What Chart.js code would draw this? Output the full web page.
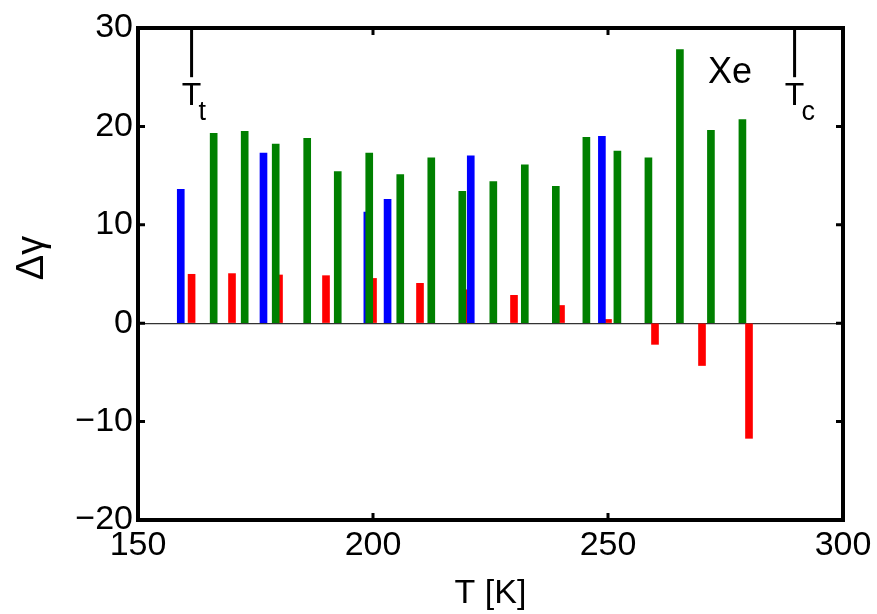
<!DOCTYPE html>
<html>
<head>
<meta charset="utf-8">
<script src="https://cdn.jsdelivr.net/npm/chart.js@4.4.1/dist/chart.umd.min.js"></script>
<style>
  html, body { margin: 0; padding: 0; background: #fff; }
</style>
</head>
<body>
<canvas id="myChart" width="877" height="614"></canvas>
<script>
// values: temperature T [K] and delta gamma
const greenT   = [166.1, 172.7, 179.3, 186.0, 192.5, 199.2, 205.8, 212.4, 219.0, 225.6, 232.3, 238.9, 245.4, 252.0, 258.6, 265.3, 271.9, 278.6];
const greenVal = [19.3, 19.5, 18.2, 18.8, 15.4, 17.3, 15.1, 16.8, 13.4, 14.4, 16.1, 13.9, 18.9, 17.5, 16.8, 27.8, 19.6, 20.7];

const blueT   = [159.1, 176.7, 198.8, 203.1, 220.8, 248.7];
const blueVal = [13.6, 17.3, 11.3, 12.6, 17.0, 19.0];

const redT   = [161.4, 170, 180, 190, 200, 210, 220, 230, 240, 250, 260, 270, 280];
const redVal = [4.97, 5.04, 4.9, 4.83, 4.55, 4.05, 3.4, 2.83, 1.8, 0.38, -2.15, -4.3, -11.7];

const xTicks = [150, 200, 250, 300];
const yTicks = [-20, -10, 0, 10, 20, 30];

// marker lines: triple point and critical point of Xe
const markT   = [161.4, 289.7];
const markSub = ['t', 'c'];

const FONT = "'Liberation Sans', Arial, Helvetica, sans-serif";

function pts(xs, ys) {
  return xs.map((v, i) => ({ x: v, y: ys[i] }));
}

const data = {
  datasets: [
    { label: 'green', data: pts(greenT, greenVal), backgroundColor: 'rgb(0, 128, 0)' },
    { label: 'blue',  data: pts(blueT, blueVal),   backgroundColor: 'rgb(0, 0, 255)' },
    { label: 'red',   data: pts(redT, redVal),     backgroundColor: 'rgb(255, 0, 0)' }
  ]
};

// box, inward ticks and the text marks
const frame = {
  id: 'frame',
  afterDatasetsDraw(chart) {
    const { ctx, chartArea: a, scales: { x, y } } = chart;
    ctx.save();
    ctx.strokeStyle = '#000';
    ctx.lineWidth = 4;
    ctx.strokeRect(a.left, a.top, a.right - a.left, a.bottom - a.top);

    ctx.lineWidth = 3;
    ctx.beginPath();
    xTicks.slice(1, -1).forEach(v => {
      const px = x.getPixelForValue(v);
      ctx.moveTo(px, a.top); ctx.lineTo(px, a.top + 7);
      ctx.moveTo(px, a.bottom); ctx.lineTo(px, a.bottom - 7);
    });
    yTicks.slice(1, -1).forEach(v => {
      const py = y.getPixelForValue(v);
      ctx.moveTo(a.left, py); ctx.lineTo(a.left + 7, py);
      ctx.moveTo(a.right, py); ctx.lineTo(a.right - 7, py);
    });
    ctx.stroke();

    // T_t and T_c
    ctx.fillStyle = '#000';
    ctx.textBaseline = 'alphabetic';
    markT.forEach((t, i) => {
      const px = x.getPixelForValue(t);
      ctx.lineWidth = 3;
      ctx.beginPath();
      ctx.moveTo(px, a.top);
      ctx.lineTo(px, y.getPixelForValue(25.0));
      ctx.stroke();
      ctx.font = '32px ' + FONT;
      ctx.textAlign = 'center';
      ctx.fillText('T', px, y.getPixelForValue(22.2));
      ctx.font = '27px ' + FONT;
      ctx.textAlign = 'left';
      ctx.fillText(markSub[i], px + 7, y.getPixelForValue(20.6));
    });

    ctx.font = '36px ' + FONT;
    ctx.textAlign = 'left';
    ctx.fillText('Xe', x.getPixelForValue(271.3), y.getPixelForValue(24.4));

    // y axis title, sits a bit above the middle like the original
    ctx.translate(43, 258);
    ctx.rotate(-Math.PI / 2);
    ctx.font = '38px ' + FONT;
    ctx.textAlign = 'center';
    ctx.fillText('Δγ', 0, 0);
    ctx.restore();
  }
};

const config = {
  type: 'bar',
  data,
  options: {
    responsive: false,
    animation: false,
    layout: { padding: { top: 28, right: 34, left: 0, bottom: 0 } },
    datasets: { bar: { grouped: false, barThickness: 7 } },
    plugins: { legend: { display: false }, tooltip: { enabled: false } },
    scales: {
      x: {
        type: 'linear',
        min: 150,
        max: 300,
        offset: false,
        afterFit: s => { s.height = 94; },
        afterBuildTicks: s => { s.ticks = xTicks.map(v => ({ value: v })); },
        grid: { display: false, drawTicks: false },
        border: { display: false },
        ticks: { color: '#000', padding: 5, maxRotation: 0, font: { family: FONT, size: 34 } },
        title: { display: true, text: 'T [K]', color: '#000', padding: { top: 0, bottom: 0 }, font: { family: FONT, size: 34 } }
      },
      y: {
        min: -20,
        max: 30,
        afterFit: s => { s.width = 138; },
        afterBuildTicks: s => { s.ticks = yTicks.map(v => ({ value: v })); },
        grid: {
          drawTicks: false,
          lineWidth: 1.3,
          color: c => (c.tick && c.tick.value === 0 ? '#333' : 'rgba(0,0,0,0)')
        },
        border: { display: false },
        ticks: {
          color: '#000',
          padding: 5,
          font: { family: FONT, size: 34 },
          callback: v => (v < 0 ? '\u2212' + Math.abs(v) : String(v))
        }
      }
    }
  },
  plugins: [frame]
};

const myChart = new Chart(document.getElementById('myChart'), config);
</script>
</body>
</html>
